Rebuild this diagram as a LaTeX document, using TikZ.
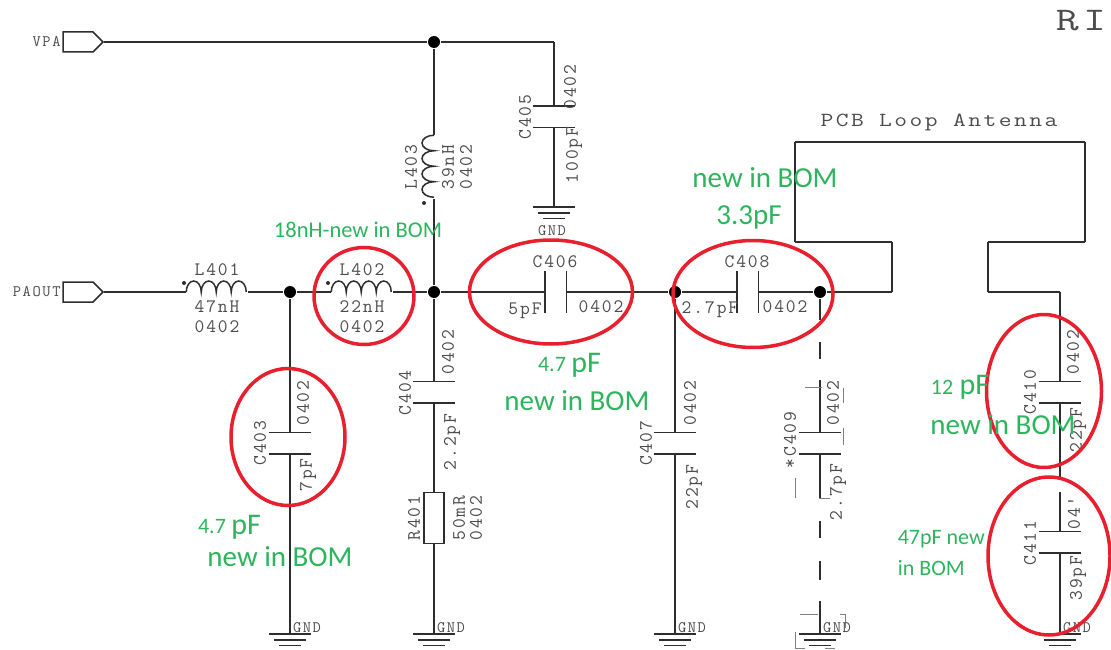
\documentclass[tikz,border=0pt]{standalone}
\usepackage{fontspec}
\usetikzlibrary{positioning,shapes.geometric,shapes.symbols}
\setmonofont[LetterSpace=10]{Latin Modern Mono}
\newfontfamily\bomfont{Carlito}
\definecolor{bomgreen}{HTML}{2DB55D}
\definecolor{loopred}{HTML}{E8202E}
\newcommand{\coilh}[1]{\draw (#1.west) arc[start angle=180,end angle=0,x radius=7.5pt,y radius=11pt]
    arc[start angle=180,end angle=0,x radius=7.5pt,y radius=11pt]
    arc[start angle=180,end angle=0,x radius=7.5pt,y radius=11pt]
    arc[start angle=180,end angle=0,x radius=7.5pt,y radius=11pt];}
\newcommand{\coilv}[1]{\draw (#1.north) arc[start angle=90,end angle=270,x radius=12pt,y radius=7.75pt]
    arc[start angle=90,end angle=270,x radius=12pt,y radius=7.75pt]
    arc[start angle=90,end angle=270,x radius=12pt,y radius=7.75pt]
    arc[start angle=90,end angle=270,x radius=12pt,y radius=7.75pt];}

\begin{document}
\begin{tikzpicture}[x=1pt,y=-1pt,line width=1.5pt,color=black!82,
                    junction/.style={circle,fill=black,inner sep=0pt,minimum size=12pt},
                    port/.style={signal,signal to=east,draw,inner sep=0pt,minimum width=40pt,minimum height=20pt},
                    capv/.style={inner sep=0pt,minimum width=40pt,minimum height=20pt,
                        append after command={(\tikzlastnode.north west) edge (\tikzlastnode.north east)
                                              (\tikzlastnode.south west) edge (\tikzlastnode.south east)}},
                    caph/.style={inner sep=0pt,minimum width=20pt,minimum height=40pt,
                        append after command={(\tikzlastnode.north west) edge (\tikzlastnode.south west)
                                              (\tikzlastnode.north east) edge (\tikzlastnode.south east)}},
                    coil h/.style={inner sep=0pt,minimum width=60pt,minimum height=0pt},
                    coil v/.style={inner sep=0pt,minimum height=62pt,minimum width=0pt},
                    ground/.style={inner sep=0pt,minimum width=40pt,minimum height=10pt,
                        append after command={(\tikzlastnode.north west) edge (\tikzlastnode.north east)
                                              ([xshift=5pt]\tikzlastnode.west) edge ([xshift=-5pt]\tikzlastnode.east)
                                              ([xshift=10pt]\tikzlastnode.south west) edge ([xshift=-10pt]\tikzlastnode.south east)}},
                    resistor/.style={draw,inner sep=0pt,minimum width=20pt,minimum height=51pt},
                    part/.style={font=\ttfamily\fontsize{19}{19}\selectfont,inner sep=0pt,text=black!70},
                    part v/.style={part,rotate=90},
                    small part/.style={font=\ttfamily\fontsize{16}{16}\selectfont,inner sep=0pt,text=black!70},
                    bom/.style={font=\bomfont\fontsize{#1}{#1}\selectfont,text=bomgreen,inner sep=0pt},
                    red loop/.style={ellipse,draw=loopred,line width=3.5pt,inner sep=0pt},
                    faint/.style={line width=.8pt,color=black!50}]
    \useasboundingbox[fill=white] (0,0) rectangle (1111,650);

    \node[port] (VPA) at (78,42) {};
    \node[port] (PAOUT) at (78,292) {};
    \node[small part,left=1pt of VPA] (VPA text) {VPA};
    \node[small part,left=1pt of PAOUT] (PAOUT text) {PAOUT};

    \node[junction] (J1) at (434,42) {};
    \node[junction] (J2) at (290,292) {};
    \node[junction] (J3) at (434,292) {};
    \node[junction] (J4) at (675,292) {};
    \node[junction] (J5) at (820,292) {};
    \coordinate (VPA corner) at (554,42);

    \node[coil h] (L401) at (217,292) {};
    \node[coil h] (L402) at (362,292) {};
    \node[coil v] (L403) at (434,167) {};
    \coilh{L401}
    \coilh{L402}
    \coilv{L403}
    \fill (184,283) circle (2pt) (328,283) circle (2pt) (424,203) circle (2pt);

    \node[capv] (C403) at (290,443) {};
    \node[capv] (C404) at (434,392) {};
    \node[capv] (C405) at (554,117) {};
    \node[caph] (C406) at (555.5,292) {};
    \node[capv] (C407) at (675,443) {};
    \node[caph] (C408) at (747.5,292) {};
    \node[capv] (C409) at (820,443) {};
    \node[capv] (C410) at (1060,392) {};
    \node[capv] (C411) at (1060,542) {};
    \node[resistor] (R401) at (434,518) {};

    \node[ground,anchor=north] (G403) at (290,634) {};
    \node[ground,anchor=north] (G404) at (434,634) {};
    \node[ground,anchor=north] (G405) at (554,207) {};
    \node[ground,anchor=north] (G407) at (675,634) {};
    \node[ground,anchor=north] (G409) at (820,634) {};
    \node[ground,anchor=north] (G411) at (1060,634) {};

    \coordinate (A1) at (892,292);
    \coordinate (A2) at (892,242);
    \coordinate (A3) at (795,242);
    \coordinate (A4) at (795,142);
    \coordinate (A5) at (1085,142);
    \coordinate (A6) at (1085,242);
    \coordinate (A7) at (988,242);
    \coordinate (A8) at (988,292);
    \coordinate (A9) at (1060,292);
    \coordinate (W1) at (1060,477);
    \coordinate (W2) at (1060,492);

    \path
        (VPA.east) edge (J1)
        (J1) edge (VPA corner)
        (J1) edge (L403.north)
        (VPA corner) edge (C405.north)
        (C405.south) edge (G405.north)
        (L403.south) edge (J3)

        (PAOUT.east) edge (L401.west)
        (L401.east) edge (J2)
        (J2) edge (L402.west)
        (L402.east) edge (J3)
        (J3) edge (C406.west)
        (C406.east) edge (J4)
        (J4) edge (C408.west)
        (C408.east) edge (J5)

        (J2) edge (C403.north)
        (C403.south) edge (G403.north)
        (J3) edge (C404.north)
        (C404.south) edge (R401.north)
        (R401.south) edge (G404.north)
        (J4) edge (C407.north)
        (C407.south) edge (G407.north)

        (J5) edge [dash pattern=on 21pt off 22pt on 17pt off 21pt on 60pt] (C409.north)
        (C409.south) edge [dash pattern=on 45pt off 22pt on 17pt off 23pt on 19pt off 21pt on 34pt] (G409.north)

        (J5) edge (A1)
        (A1) edge (A2)
        (A2) edge (A3)
        (A3) edge (A4)
        (A4) edge (A5)
        (A5) edge (A6)
        (A6) edge (A7)
        (A7) edge (A8)
        (A8) edge (A9)
        (A9) edge (C410.north)
        (C410.south) edge (W1)
        (W2) edge (C411.north)
        (C411.south) edge (G411.north);

    \draw[faint] (805,387) -- (822,387) (843,388) -- (843,403) (843,428) -- (843,445)
        (795,478) -- (795,498) (819,498) -- (830,498)
        (800,614) -- (818,614) (840,614) -- (845,614) -- (845,628)
        (795,632) -- (795,648) -- (805,648) (825,648) -- (835,648);

    \node[part] (L401 name) at (217,270) {L401};
    \node[part,below=7pt of L401] (L401 value) {47nH};
    \node[part,below=7pt of L401 value] (L401 size) {0402};
    \node[part] (L402 name) at (362,270) {L402};
    \node[part,below=7pt of L402] (L402 value) {22nH};
    \node[part,below=7pt of L402 value] (L402 size) {0402};
    \node[part v] (L403 name) at (411,167) {L403};
    \node[part v] (L403 value) at (448,167) {39nH};
    \node[part v] (L403 size) at (466,167) {0402};

    \node[part v] (C403 name) at (260,443) {C403};
    \node[part v] (C403 size) at (303,403) {0402};
    \node[part v] (C403 value) at (308,475) {7pF};
    \node[part v] (C404 name) at (405,393) {C404};
    \node[part v] (C404 size) at (448,352) {0402};
    \node[part v] (C404 value) at (452,442) {2.2pF};
    \node[part v] (R401 name) at (414,518) {R401};
    \node[part v] (R401 value) at (459,518) {50mR};
    \node[part v] (R401 size) at (476,518) {0402};
    \node[part v] (C405 name) at (525,117) {C405};
    \node[part v] (C405 size) at (570,87) {0402};
    \node[part v] (C405 value) at (574,155) {100pF};
    \node[part] (C406 name) at (555,262) {C406};
    \node[part] (C406 value) at (525,311) {5pF};
    \node[part] (C406 size) at (601,307) {0402};
    \node[part v] (C407 name) at (646,443) {C407};
    \node[part v] (C407 size) at (690,403) {0402};
    \node[part v] (C407 value) at (694,487) {22pF};
    \node[part] (C408 name) at (747,262) {C408};
    \node[part] (C408 value) at (710,310) {2.7pF};
    \node[part] (C408 size) at (785,307) {0402};
    \node[part v] (C409 name) at (790,440) {*C409};
    \node[part v] (C409 size) at (833,403) {0402};
    \node[part v] (C409 value) at (838,492) {2.7pF};
    \node[part v] (C410 name) at (1030,392) {C410};
    \node[part v] (C410 size) at (1073,352) {0402};
    \node[part v] (C410 value) at (1078,430) {22pF};
    \node[part v] (C411 name) at (1030,543) {C411};
    \node[part v] (C411 size) at (1074,513) {04'};
    \node[part v] (C411 value) at (1078,578) {39pF};

    \node[small part] (G403 text) at (307,628) {GND};
    \node[small part] (G404 text) at (451,628) {GND};
    \node[small part] (G405 text) at (552,231) {GND};
    \node[small part] (G407 text) at (692,628) {GND};
    \node[small part] (G409 text) at (837,628) {GND};
    \node[small part] (G411 text) at (1077,628) {GND};

    \node[inner sep=0pt,text=black!70,font=\ttfamily\fontsize{20}{20}\selectfont] (antenna) at (939,122) {\scalebox{1.24}[1]{PCB Loop Antenna}};
    \node[inner sep=0pt,anchor=west,text=black!70,font=\ttfamily\fontsize{33}{33}\selectfont] (sheet) at (1055,21) {\scalebox{1.35}[1]{RI}};

    \node[red loop,minimum width=114pt,minimum height=137pt] (M403) at (288,437) {};
    \node[red loop,minimum width=100pt,minimum height=97pt] (M402) at (364,296) {};
    \node[red loop,minimum width=163pt,minimum height=104pt] (M406) at (551,292) {};
    \node[red loop,minimum width=160pt,minimum height=107pt] (M408) at (753,294) {};
    \node[red loop,minimum width=115pt,minimum height=153pt] (M410) at (1044,391) {};
    \node[red loop,minimum width=122pt,minimum height=158pt] (M411) at (1049,556) {};

    \node[bom=22.5] (T402) at (358,230) {18nH-new in BOM};
    \node[bom=29] (T408) at (765,178) {new in BOM};
    \node[bom=29] (T408 value) at (749,217) {3.3pF};
    \node[bom=22] (T406a) at (552,365) {4.7};
    \node[bom=30,right=4pt of T406a] (T406b) {pF};
    \node[bom=29] (T406 text) at (577,401) {new in BOM};
    \node[bom=22] (T403a) at (212,527) {4.7};
    \node[bom=30,right=4pt of T403a] (T403b) {pF};
    \node[bom=29] (T403 text) at (280,557) {new in BOM};
    \node[bom=22] (T410a) at (942,387) {12};
    \node[bom=30,right=5pt of T410a] (T410b) {pF};
    \node[bom=29] (T410 text) at (1003,425) {new in BOM};
    \node[bom=22,anchor=west] (T411a) at (897,539) {47pF new};
    \node[bom=22,anchor=west] (T411b) at (897,568) {in BOM};
\end{tikzpicture}
\end{document}
